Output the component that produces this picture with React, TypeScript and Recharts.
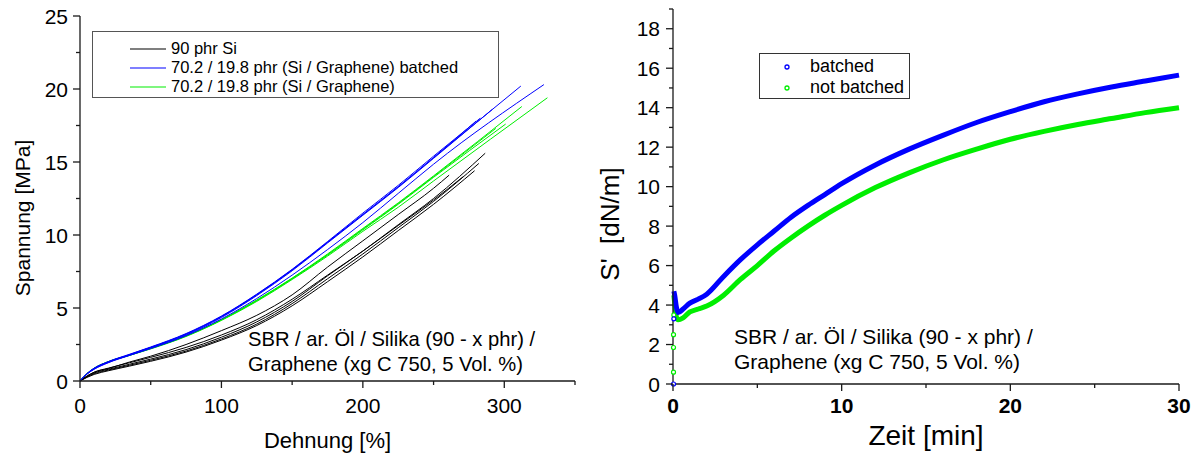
import React from 'react';
import { ComposedChart, Line, Scatter, XAxis, YAxis, Legend, Label } from 'recharts';

const FONT = '"Liberation Sans", Arial, Helvetica, sans-serif';
const AX = '#1a1a1a';

// ---------------- Left chart: stress–strain ----------------
const STRAIN = [0, 5, 10, 20, 35, 50, 75, 100, 125, 150, 175, 200, 225, 250];

const BLACK_STRESS = [
  [0, 0.35, 0.6, 0.85, 1.3, 1.7, 2.5, 3.45, 4.5, 5.9, 7.8, 9.6, 11.4, 13.2],
  [0, 0.3, 0.55, 0.8, 1.15, 1.5, 2.15, 3.0, 4.05, 5.45, 7.2, 8.9, 10.7, 12.5],
  [0, 0.28, 0.5, 0.75, 1.08, 1.42, 2.05, 2.88, 3.9, 5.3, 7.0, 8.7, 10.5, 12.3],
  [0, 0.33, 0.6, 0.88, 1.25, 1.62, 2.3, 3.15, 4.2, 5.6, 7.25, 8.9, 10.65, 12.4],
  [0, 0.25, 0.45, 0.7, 1.02, 1.35, 1.98, 2.8, 3.8, 5.15, 6.8, 8.5, 10.3, 12.1],
];
const BLACK_END = [[261, 14.1], [286.5, 15.6], [282, 14.9], [271, 14.0], [279, 14.4]];

const BLUE_STRESS = [
  [0, 0.5, 0.85, 1.3, 1.8, 2.3, 3.2, 4.4, 5.9, 7.6, 9.5, 11.4, 13.3, 15.3],
  [0, 0.52, 0.88, 1.33, 1.83, 2.33, 3.25, 4.45, 5.95, 7.65, 9.55, 11.5, 13.4, 15.4],
  [0, 0.48, 0.82, 1.27, 1.77, 2.27, 3.15, 4.35, 5.85, 7.55, 9.45, 11.35, 13.25, 15.25],
  [0, 0.5, 0.85, 1.3, 1.8, 2.3, 3.22, 4.42, 5.92, 7.62, 9.5, 11.4, 13.3, 15.3],
  [0, 0.48, 0.8, 1.25, 1.75, 2.22, 3.1, 4.25, 5.65, 7.25, 9.0, 10.85, 12.85, 14.85],
];
const BLUE_END = [[280, 17.8], [283, 18.0], [291.5, 18.6], [311.7, 20.2], [328, 20.3]];

const GREEN_STRESS = [
  [0, 0.5, 0.85, 1.3, 1.75, 2.2, 3.05, 4.15, 5.45, 6.95, 8.55, 10.25, 11.9, 13.7],
  [0, 0.52, 0.88, 1.33, 1.78, 2.24, 3.1, 4.2, 5.55, 7.05, 8.7, 10.45, 12.2, 14.05],
  [0, 0.5, 0.86, 1.31, 1.76, 2.22, 3.08, 4.18, 5.5, 7.0, 8.62, 10.35, 12.1, 13.95],
  [0, 0.51, 0.87, 1.32, 1.77, 2.23, 3.09, 4.19, 5.52, 7.02, 8.65, 10.4, 12.15, 14.0],
];
const GREEN_END = [[330.5, 19.4], [312.4, 18.8], [301, 17.6], [294, 17.3]];

const LEFT_NAMES = ['90 phr Si', '70.2 / 19.8 phr (Si / Graphene) batched', '70.2 / 19.8 phr (Si / Graphene)'];
const LEFT_COLORS = ['#000000', '#0000ff', '#00ee00'];

const LEFT_X_TICKS = [0, 50, 100, 150, 200, 250, 300, 350];
const LEFT_Y_TICKS = [0, 2.5, 5, 7.5, 10, 12.5, 15, 17.5, 20, 22.5, 25];

// ---------------- Right chart: S' vs time ----------------
const TIME = [0.05, 0.1, 0.2, 0.3, 0.6, 1.0, 1.5, 2.0, 3, 4, 5, 6, 7, 8, 9, 10, 12, 14, 16, 18, 20, 22, 24, 26, 28, 30];
const S_BATCHED = [4.7, 4.5, 3.9, 3.62, 3.8, 4.1, 4.3, 4.55, 5.45, 6.3, 7.05, 7.75, 8.45, 9.05, 9.6, 10.15, 11.1, 11.9, 12.6, 13.25, 13.8, 14.3, 14.7, 15.05, 15.35, 15.65];
const S_NOT_BATCHED = [4.5, 4.1, 3.4, 3.25, 3.35, 3.65, 3.8, 3.95, 4.5, 5.3, 6.0, 6.75, 7.4, 8.0, 8.55, 9.05, 9.95, 10.7, 11.35, 11.9, 12.4, 12.8, 13.15, 13.45, 13.75, 14.0];
const START_BATCHED_T = [0.03, 0.05];
const START_BATCHED_S = [0, 3.3];
const START_NOT_T = [0.03, 0.03, 0.03, 0.05];
const START_NOT_S = [0.6, 1.85, 2.5, 3.5];

const RIGHT_NAMES = ['batched', 'not batched'];
const RIGHT_COLORS = ['#0000ff', '#00ee00'];
const RIGHT_X_TICKS = [0, 5, 10, 15, 20, 25, 30];
const RIGHT_Y_TICKS = Array.from({ length: 20 }, (_, i) => i);

const ANNOT_1 = 'SBR / ar. Öl / Silika (90 - x phr) /';
const ANNOT_2 = 'Graphene (xg C 750, 5 Vol. %)';

const build = (xs: number[], ys: number[], end?: number[]) => {
  const pts = xs.map((x, i) => ({ x, y: ys[i] }));
  if (end) pts.push({ x: end[0], y: end[1] });
  return pts;
};

type TickOpts = {
  side: 'left' | 'right' | 'top' | 'bottom';
  isMajor: (v: number) => boolean;
  major: number;
  minor: number;
  label?: boolean;
  fontSize?: number;
  bold?: boolean;
  gap?: number;
};

const makeTick = (o: TickOpts) => (props: any) => {
  const { x, y, payload } = props;
  const v = payload.value;
  const maj = o.isMajor(v);
  const len = maj ? o.major : o.minor;
  let ln: any = null;
  let tx: any = null;
  const st = { stroke: AX, strokeWidth: 1.3 };
  if (o.side === 'left') {
    ln = <line x1={x} x2={x - len} y1={y} y2={y} {...st} />;
    if (o.label && maj)
      tx = (
        <text x={x - (o.gap || 12)} y={y} dy="0.36em" textAnchor="end" fontSize={o.fontSize} fontWeight={o.bold ? 'bold' : 'normal'} fontFamily={FONT} fill="#000">
          {v}
        </text>
      );
  } else if (o.side === 'bottom') {
    ln = <line x1={x} x2={x} y1={y} y2={y + len} {...st} />;
    if (o.label && maj)
      tx = (
        <text x={x} y={y + (o.gap || 24)} dy="0.36em" textAnchor="middle" fontSize={o.fontSize} fontWeight={o.bold ? 'bold' : 'normal'} fontFamily={FONT} fill="#000">
          {v}
        </text>
      );
  } else if (o.side === 'top') {
    ln = <line x1={x} x2={x} y1={y} y2={y + len} {...st} />;
  } else {
    ln = <line x1={x} x2={x - len} y1={y} y2={y} {...st} />;
  }
  return (
    <g>
      {ln}
      {tx}
    </g>
  );
};

const LeftLegend = () => (
  <div
    style={{
      width: 407,
      height: 67,
      border: '1px solid #555',
      boxSizing: 'border-box',
      background: '#fff',
      fontFamily: FONT,
      fontSize: 16.5,
      paddingTop: 7,
    }}
  >
    {LEFT_NAMES.map((n, i) => (
      <div key={n} style={{ display: 'flex', alignItems: 'center', height: 19 }}>
        <svg width={36} height={4} style={{ marginLeft: 37, marginRight: 5 }}>
          <line x1={0} x2={36} y1={2} y2={2} stroke={LEFT_COLORS[i]} strokeWidth={1.2} />
        </svg>
        <span style={{ whiteSpace: 'nowrap', color: '#000' }}>{n}</span>
      </div>
    ))}
  </div>
);

const RightLegend = () => (
  <div
    style={{
      width: 151,
      height: 46,
      border: '1px solid #333',
      boxSizing: 'border-box',
      background: '#fff',
      fontFamily: FONT,
      fontSize: 18,
      paddingTop: 2,
    }}
  >
    {RIGHT_NAMES.map((n, i) => (
      <div key={n} style={{ display: 'flex', alignItems: 'center', height: 21 }}>
        <svg width={10} height={10} style={{ marginLeft: 22, marginRight: 18 }}>
          <circle cx={5} cy={5} r={2} fill="#fff" stroke={RIGHT_COLORS[i]} strokeWidth={1.3} />
        </svg>
        <span style={{ whiteSpace: 'nowrap', color: '#000' }}>{n}</span>
      </div>
    ))}
  </div>
);

const SmallCircle = (color: string) => (props: any) => (
  <circle cx={props.cx} cy={props.cy} r={2} fill="#fff" stroke={color} strokeWidth={1.2} />
);

const annotStyle = (left: number, top: number, size: number): React.CSSProperties => ({
  position: 'absolute',
  left,
  top,
  fontFamily: FONT,
  fontSize: size,
  lineHeight: '25px',
  color: '#000',
  whiteSpace: 'nowrap',
});

export default function App() {
  const blackSets = BLACK_STRESS.map((s, i) => build(STRAIN, s, BLACK_END[i]));
  const blueSets = BLUE_STRESS.map((s, i) => build(STRAIN, s, BLUE_END[i]));
  const greenSets = GREEN_STRESS.map((s, i) => build(STRAIN, s, GREEN_END[i]));
  const batched = build(TIME, S_BATCHED);
  const notBatched = build(TIME, S_NOT_BATCHED);
  const startB = build(START_BATCHED_T, START_BATCHED_S);
  const startN = build(START_NOT_T, START_NOT_S);

  const leftMajX = (v: number) => v % 100 === 0;
  const leftMajY = (v: number) => v % 5 === 0;
  const rightMajX = (v: number) => v % 10 === 0;
  const rightMajY = (v: number) => v % 2 === 0;

  return (
    <div style={{ position: 'absolute', left: 0, top: 0, width: 1200, height: 453, background: '#fff', overflow: 'hidden' }}>
      <div style={{ position: 'absolute', left: 0, top: 0 }}>
        <ComposedChart width={580} height={453} margin={{ top: 16, right: 5, bottom: 0, left: 0 }}>
          <XAxis
            xAxisId="b"
            type="number"
            dataKey="x"
            domain={[0, 350]}
            ticks={LEFT_X_TICKS}
            interval={0}
            height={72}
            tickSize={0}
            tickMargin={0}
            tickLine={false}
            axisLine={{ stroke: AX, strokeWidth: 1.3 }}
            tick={makeTick({ side: 'bottom', isMajor: leftMajX, major: 7, minor: 4, label: true, fontSize: 21, gap: 24 })}
          >
            <Label
              content={(p: any) => (
                <text x={p.viewBox.x + p.viewBox.width / 2} y={440} dy="0.36em" textAnchor="middle" fontSize={22} fontFamily={FONT} fill="#000">
                  Dehnung [%]
                </text>
              )}
            />
          </XAxis>
          <XAxis
            xAxisId="t"
            orientation="top"
            type="number"
            dataKey="x"
            domain={[0, 350]}
            ticks={LEFT_X_TICKS}
            interval={0}
            height={0}
            tickSize={0}
            tickMargin={0}
            tickLine={false}
            axisLine={{ stroke: AX, strokeWidth: 1.3 }}
            tick={makeTick({ side: 'top', isMajor: leftMajX, major: 4, minor: 4 })}
          />
          <YAxis
            yAxisId="l"
            type="number"
            domain={[0, 25]}
            ticks={LEFT_Y_TICKS}
            interval={0}
            width={80}
            tickSize={0}
            tickMargin={0}
            tickLine={false}
            axisLine={{ stroke: AX, strokeWidth: 1.3 }}
            tick={makeTick({ side: 'left', isMajor: leftMajY, major: 7, minor: 4, label: true, fontSize: 21, gap: 12 })}
          >
            <Label
              content={() => (
                <text
                  x={22}
                  y={218}
                  dy="0.36em"
                  textAnchor="middle"
                  fontSize={21}
                  fontFamily={FONT}
                  fill="#000"
                  transform="rotate(-90 22 218)"
                >
                  Spannung [MPa]
                </text>
              )}
            />
          </YAxis>
          <YAxis
            yAxisId="r"
            orientation="right"
            type="number"
            domain={[0, 25]}
            ticks={LEFT_Y_TICKS}
            interval={0}
            width={0}
            tickSize={0}
            tickMargin={0}
            tickLine={false}
            axisLine={{ stroke: AX, strokeWidth: 1.3 }}
            tick={makeTick({ side: 'right', isMajor: leftMajY, major: 4, minor: 4 })}
          />
          {blackSets.map((d, i) => (
            <Line key={'k' + i} xAxisId="b" yAxisId="l" data={d} dataKey="y" type="monotone" stroke={LEFT_COLORS[0]} strokeWidth={1} dot={false} isAnimationActive={false} name={LEFT_NAMES[0]} />
          ))}
          {greenSets.map((d, i) => (
            <Line key={'g' + i} xAxisId="b" yAxisId="l" data={d} dataKey="y" type="monotone" stroke={LEFT_COLORS[2]} strokeWidth={1} dot={false} isAnimationActive={false} name={LEFT_NAMES[2]} />
          ))}
          {blueSets.map((d, i) => (
            <Line key={'b' + i} xAxisId="b" yAxisId="l" data={d} dataKey="y" type="monotone" stroke={LEFT_COLORS[1]} strokeWidth={1} dot={false} isAnimationActive={false} name={LEFT_NAMES[1]} />
          ))}
          <Legend
            layout="vertical"
            align="center"
            verticalAlign="middle"
            wrapperStyle={{ position: 'absolute', left: 92, top: 31, width: 407, height: 67 }}
            content={() => <LeftLegend />}
          />
        </ComposedChart>
        <div style={annotStyle(248, 327, 20.2)}>
          <div>{ANNOT_1}</div>
          <div>{ANNOT_2}</div>
        </div>
      </div>

      <div style={{ position: 'absolute', left: 580, top: 0 }}>
        <ComposedChart width={620} height={453} margin={{ top: 9, right: 21, bottom: 0, left: 0 }}>
          <XAxis
            xAxisId="b"
            type="number"
            dataKey="x"
            domain={[0, 30]}
            ticks={RIGHT_X_TICKS}
            interval={0}
            height={69}
            tickSize={0}
            tickMargin={0}
            tickLine={false}
            axisLine={{ stroke: AX, strokeWidth: 1.3 }}
            tick={makeTick({ side: 'bottom', isMajor: rightMajX, major: 7, minor: 4, label: true, fontSize: 21, bold: true, gap: 21 })}
          >
            <Label
              content={(p: any) => (
                <text x={p.viewBox.x + p.viewBox.width / 2} y={435} dy="0.36em" textAnchor="middle" fontSize={28} fontFamily={FONT} fill="#000">
                  Zeit [min]
                </text>
              )}
            />
          </XAxis>
          <XAxis
            xAxisId="t"
            orientation="top"
            type="number"
            dataKey="x"
            domain={[0, 30]}
            ticks={RIGHT_X_TICKS}
            interval={0}
            height={0}
            tickSize={0}
            tickMargin={0}
            tickLine={false}
            axisLine={{ stroke: AX, strokeWidth: 1.3 }}
            tick={makeTick({ side: 'top', isMajor: rightMajX, major: 4, minor: 4 })}
          />
          <YAxis
            yAxisId="l"
            type="number"
            domain={[0, 19]}
            ticks={RIGHT_Y_TICKS}
            interval={0}
            width={93}
            tickSize={0}
            tickMargin={0}
            tickLine={false}
            axisLine={{ stroke: AX, strokeWidth: 1.3 }}
            tick={makeTick({ side: 'left', isMajor: rightMajY, major: 7, minor: 4, label: true, fontSize: 21, gap: 13 })}
          >
            <Label
              content={() => (
                <text
                  x={30}
                  y={224}
                  dy="0.36em"
                  textAnchor="middle"
                  fontSize={26}
                  fontFamily={FONT}
                  fill="#000"
                  style={{ whiteSpace: 'pre' }}
                  transform="rotate(-90 30 224)"
                >
                  {"S'  [dN/m]"}
                </text>
              )}
            />
          </YAxis>
          <YAxis
            yAxisId="r"
            orientation="right"
            type="number"
            domain={[0, 19]}
            ticks={RIGHT_Y_TICKS}
            interval={0}
            width={0}
            tickSize={0}
            tickMargin={0}
            tickLine={false}
            axisLine={{ stroke: AX, strokeWidth: 1.3 }}
            tick={makeTick({ side: 'right', isMajor: rightMajY, major: 4, minor: 4 })}
          />
          <Line xAxisId="b" yAxisId="l" data={notBatched} dataKey="y" type="monotone" stroke={RIGHT_COLORS[1]} strokeWidth={5} dot={false} isAnimationActive={false} name={RIGHT_NAMES[1]} />
          <Line xAxisId="b" yAxisId="l" data={batched} dataKey="y" type="monotone" stroke={RIGHT_COLORS[0]} strokeWidth={5} dot={false} isAnimationActive={false} name={RIGHT_NAMES[0]} />
          <Scatter xAxisId="b" yAxisId="l" data={startN} dataKey="y" isAnimationActive={false} shape={SmallCircle(RIGHT_COLORS[1])} />
          <Scatter xAxisId="b" yAxisId="l" data={startB} dataKey="y" isAnimationActive={false} shape={SmallCircle(RIGHT_COLORS[0])} />
          <Legend
            layout="vertical"
            align="center"
            verticalAlign="middle"
            wrapperStyle={{ position: 'absolute', left: 179, top: 53, width: 151, height: 46 }}
            content={() => <RightLegend />}
          />
        </ComposedChart>
        <div style={annotStyle(154, 324, 21)}>
          <div>{ANNOT_1}</div>
          <div>{ANNOT_2}</div>
        </div>
      </div>
    </div>
  );
}
